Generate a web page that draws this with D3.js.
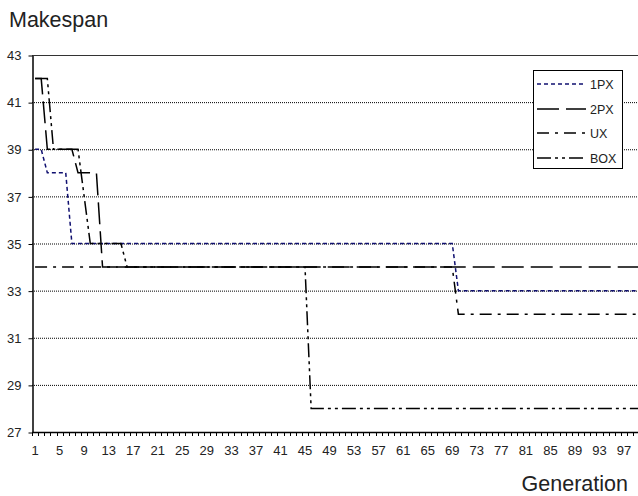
<!DOCTYPE html>
<html>
<head>
<meta charset="utf-8">
<script src="https://cdn.jsdelivr.net/npm/d3@7"></script>
<style>
  html, body { margin: 0; padding: 0; background: #fff; }
  svg { display: block; font-family: "Liberation Sans", Arial, sans-serif; }
</style>
</head>
<body>
<svg id="chart" width="638" height="496"></svg>
<script>
// Generations 1..100
const generations = d3.range(1, 101);

// Best makespan per generation
const px1 = [
  39,39,38,38,38,38,35,35,35,35,
  35,35,35,35,35,35,35,35,35,35,
  35,35,35,35,35,35,35,35,35,35,
  35,35,35,35,35,35,35,35,35,35,
  35,35,35,35,35,35,35,35,35,35,
  35,35,35,35,35,35,35,35,35,35,
  35,35,35,35,35,35,35,35,35,33,
  33,33,33,33,33,33,33,33,33,33,
  33,33,33,33,33,33,33,33,33,33,
  33,33,33,33,33,33,33,33,33,33
];
const px2 = [
  42,42,39,39,39,39,39,38,38,38,
  38,34,34,34,34,34,34,34,34,34,
  34,34,34,34,34,34,34,34,34,34,
  34,34,34,34,34,34,34,34,34,34,
  34,34,34,34,34,34,34,34,34,34,
  34,34,34,34,34,34,34,34,34,34,
  34,34,34,34,34,34,34,34,34,34,
  34,34,34,34,34,34,34,34,34,34,
  34,34,34,34,34,34,34,34,34,34,
  34,34,34,34,34,34,34,34,34,34
];
const ux = [
  34,34,34,34,34,34,34,34,34,34,
  34,34,34,34,34,34,34,34,34,34,
  34,34,34,34,34,34,34,34,34,34,
  34,34,34,34,34,34,34,34,34,34,
  34,34,34,34,34,34,34,34,34,34,
  34,34,34,34,34,34,34,34,34,34,
  34,34,34,34,34,34,34,34,34,32,
  32,32,32,32,32,32,32,32,32,32,
  32,32,32,32,32,32,32,32,32,32,
  32,32,32,32,32,32,32,32,32,32
];
const box = [
  42,42,42,39,39,39,39,39,37,35,
  35,35,35,35,35,34,34,34,34,34,
  34,34,34,34,34,34,34,34,34,34,
  34,34,34,34,34,34,34,34,34,34,
  34,34,34,34,34,28,28,28,28,28,
  28,28,28,28,28,28,28,28,28,28,
  28,28,28,28,28,28,28,28,28,28,
  28,28,28,28,28,28,28,28,28,28,
  28,28,28,28,28,28,28,28,28,28,
  28,28,28,28,28,28,28,28,28,28
];

const seriesNames = ["1PX", "2PX", "UX", "BOX"];
const seriesValues = [px1, px2, ux, box];

const yTicks = [27, 29, 31, 33, 35, 37, 39, 41, 43];
const xLabelGens = d3.range(1, 101, 4).filter(g => g <= 97);

// Line look per series
const styles = {
  "1PX": { color: "#101070", dash: "4,3" },
  "2PX": { color: "#000", dash: "22,7" },
  "UX":  { color: "#000", dash: "12,6,3,6" },
  "BOX": { color: "#000", dash: "14,4,3,4,3,4" }
};

const svg = d3.select("#chart");
const plotLeft = 32, plotTop = 55, plotBottom = 432;
const band = 6.135;

const x = d3.scaleBand()
  .domain(generations)
  .range([plotLeft, plotLeft + generations.length * band])
  .paddingInner(0).paddingOuter(0);

const y = d3.scaleLinear().domain([27, 43]).range([plotBottom, plotTop]);

const textColor = "#222";

// Horizontal grid
svg.append("g").selectAll("line")
  .data(yTicks.filter(v => v > 27))
  .join("line")
  .attr("x1", plotLeft).attr("x2", 638)
  .attr("y1", d => y(d) + 0.5).attr("y2", d => y(d) + 0.5)
  .attr("stroke", d => d === 43 ? "#333" : "#000")
  .attr("stroke-width", 1)
  .attr("stroke-dasharray", d => d === 43 ? null : "1,1");

// Y axis
const yAxis = svg.append("g")
  .attr("transform", `translate(${plotLeft + 0.5},0.5)`)
  .call(d3.axisLeft(y).tickValues(yTicks).tickSize(4).tickPadding(7).tickSizeOuter(0));
yAxis.select(".domain").attr("stroke", "#000").attr("stroke-width", 1.5);
yAxis.selectAll(".tick line").attr("stroke", "#000");
yAxis.selectAll("text").attr("fill", textColor).attr("font-size", 13)
  .attr("font-family", "Liberation Sans, Arial, sans-serif");

// X axis: labels under band centres, ticks on band edges
const xAxis = svg.append("g")
  .attr("transform", `translate(0,${plotBottom + 0.5})`)
  .call(d3.axisBottom(x).tickValues(xLabelGens).tickSize(0).tickPadding(13));
xAxis.select(".domain").remove();
xAxis.selectAll("text").attr("fill", textColor).attr("font-size", 13)
  .attr("font-family", "Liberation Sans, Arial, sans-serif");

svg.append("g").selectAll("line")
  .data(generations)
  .join("line")
  .attr("x1", d => Math.round(x(d)) + 0.5).attr("x2", d => Math.round(x(d)) + 0.5)
  .attr("y1", plotBottom).attr("y2", plotBottom + 4)
  .attr("stroke", "#000");

svg.append("line")
  .attr("x1", plotLeft).attr("x2", 638)
  .attr("y1", plotBottom + 0.5).attr("y2", plotBottom + 0.5)
  .attr("stroke", "#000").attr("stroke-width", 1.5);

// Series lines
const line = d3.line()
  .x((d, i) => x(generations[i]) + x.bandwidth() / 2)
  .y(d => y(d));

seriesNames.forEach((name, k) => {
  svg.append("path")
    .datum(seriesValues[k])
    .attr("d", line)
    .attr("fill", "none")
    .attr("stroke", styles[name].color)
    .attr("stroke-width", 1.5)
    .attr("stroke-dasharray", styles[name].dash);
});

// Titles
svg.append("text")
  .attr("x", 9).attr("y", 27)
  .attr("font-size", 21.5).attr("fill", textColor)
  .text("Makespan");

svg.append("text")
  .attr("x", 628).attr("y", 491)
  .attr("text-anchor", "end")
  .attr("font-size", 21.5).attr("fill", textColor)
  .text("Generation");

// Legend
const legend = svg.append("g");
legend.append("rect")
  .attr("x", 533.5).attr("y", 70.5).attr("width", 89).attr("height", 98)
  .attr("fill", "#fff").attr("stroke", "#000").attr("stroke-width", 1);

const legendY = [84, 109, 133, 158];
seriesNames.forEach((name, k) => {
  legend.append("line")
    .attr("x1", 537).attr("x2", 586)
    .attr("y1", legendY[k]).attr("y2", legendY[k])
    .attr("stroke", styles[name].color)
    .attr("stroke-width", 1.5)
    .attr("stroke-dasharray", styles[name].dash);
  legend.append("text")
    .attr("x", 590).attr("y", legendY[k]).attr("dy", "0.36em")
    .attr("font-size", 12.5).attr("fill", textColor)
    .text(name);
});
</script>
</body>
</html>
